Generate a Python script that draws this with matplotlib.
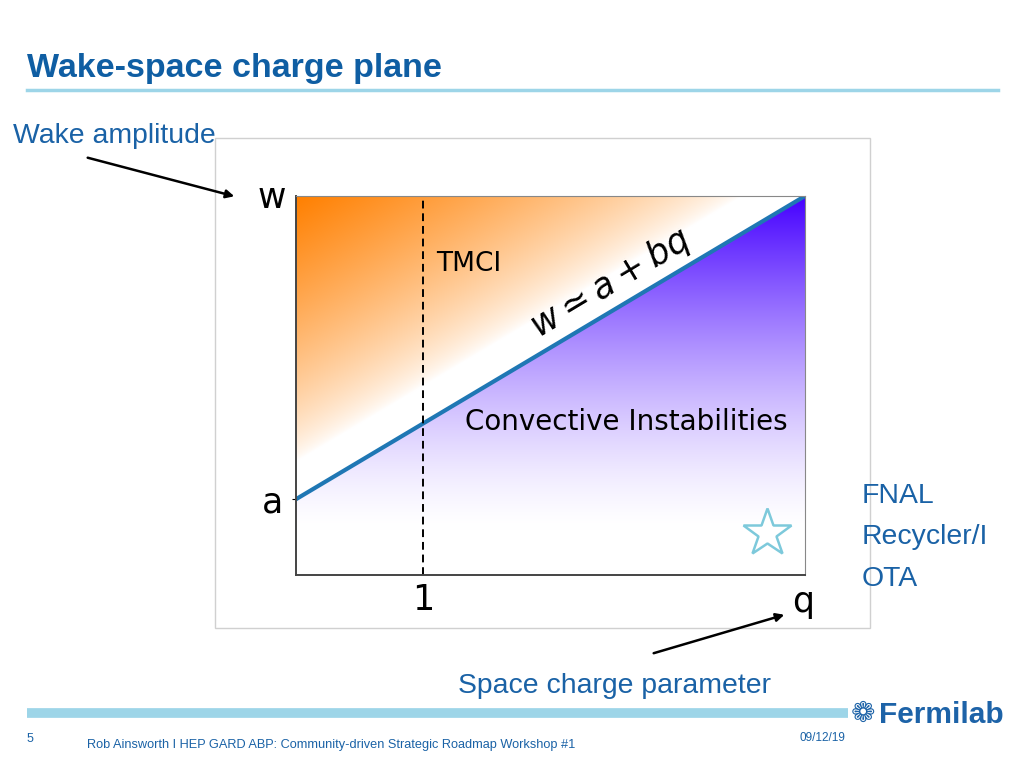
import numpy as np
import matplotlib.pyplot as plt
from matplotlib.patches import Rectangle, FancyArrowPatch
from matplotlib.lines import Line2D

# boundary w = a + b q
A_INTERCEPT = 0.2
B_SLOPE = 0.2
Q_MAX = 4.0
W_MAX = 1.0
Q_TMCI = 1.0
STAR_Q, STAR_W = 3.70, 0.11

TITLE = "Wake-space charge plane"
FOOTER = "Rob Ainsworth I HEP GARD ABP: Community-driven Strategic Roadmap Workshop #1"
PAGE = "5"
DATE = "09/12/19"
NOTE_LINES = ["FNAL", "Recycler/I", "OTA"]

BLUE_TXT = "#1a62a6"
RULE = "#9dd5e8"
W, H = 1024, 768


def fx(px):
    return px / W


def fy(py):
    return 1 - py / H


fig = plt.figure(figsize=(10.24, 7.68), dpi=100)
fig.patch.set_facecolor("white")

# slide header
fig.text(fx(27), fy(68), TITLE, fontsize=24.5, fontweight="bold", color="#0f5ea3",
         family="Liberation Sans", va="center")
fig.add_artist(Line2D([fx(27), fx(998)], [fy(90), fy(90)], color=RULE, lw=2.5))

# picture frame
fig.add_artist(Rectangle((fx(215), fy(628)), fx(870 - 215), (628 - 138) / H,
                         fill=False, ec="#d0d0d0", lw=1.0))

ax = fig.add_axes([fx(296), fy(575), fx(805 - 296), (575 - 196) / H])

# background gradients
q = np.linspace(0, Q_MAX, 500)
w = np.linspace(0, W_MAX, 400)
Q, Wg = np.meshgrid(q, w)
line_w = A_INTERCEPT + B_SLOPE * Q
above = Wg >= line_w
diff = Wg - line_w

orange = np.array([1.0, 0.50, 0.0])
purple = np.array([0.27, 0.0, 1.0])
t_o = np.clip((diff - 0.10) / 0.70, 0, 1) ** 0.75
t_p = np.clip((Wg - 0.12) / 0.88, 0, 1) ** 1.4
t = np.where(above, t_o, t_p)
col = np.where(above[..., None], orange, purple)
rgb = (1 - t[..., None]) * 1.0 + t[..., None] * col
ax.imshow(rgb, origin="lower", extent=[0, Q_MAX, 0, W_MAX], aspect="auto",
          interpolation="bilinear")

ax.plot([0, Q_MAX], [A_INTERCEPT, A_INTERCEPT + B_SLOPE * Q_MAX],
        color="#1f77b4", lw=3)
ax.axvline(Q_TMCI, color="black", ls=(0, (4, 2.5)), lw=1.4)
ax.plot(STAR_Q, STAR_W, marker="*", ms=36, mfc="white", mec="#7dc9db", mew=1.8)

ax.set_xlim(0, Q_MAX)
ax.set_ylim(0, W_MAX)
ax.set_xticks([Q_TMCI])
ax.set_xticklabels(["1"], fontsize=25)
ax.set_yticks([A_INTERCEPT])
ax.set_yticklabels(["a"], fontsize=25)
ax.tick_params(axis="x", length=0, pad=6)
ax.tick_params(axis="y", length=3, pad=6)
for side in ("left", "bottom"):
    ax.spines[side].set_color("#444444")
    ax.spines[side].set_linewidth(1.4)
for side in ("top", "right"):
    ax.spines[side].set_color("#888888")
    ax.spines[side].set_linewidth(0.8)

ax.text(1.10, 0.82, "TMCI", fontsize=19, va="center", ha="left")
ax.text(1.33, 0.405, "Convective Instabilities", fontsize=20, va="center", ha="left")
ax.text(2.47, 0.77, r"$w \simeq a + bq$", fontsize=25, rotation=31,
        rotation_mode="anchor", ha="center", va="center")
fig.text(fx(272), fy(198), "w", fontsize=25, ha="center", va="center")
fig.text(fx(803), fy(602), "q", fontsize=25, ha="center", va="center")

# annotations on slide
fig.text(fx(13), fy(136), "Wake amplitude", fontsize=20.4, color=BLUE_TXT,
         family="Liberation Sans", va="center")
fig.add_artist(FancyArrowPatch((fx(85), fy(157)), (fx(237), fy(197)),
                               arrowstyle="-|>", mutation_scale=12, color="black", lw=1.8))
fig.add_artist(FancyArrowPatch((fx(651), fy(654)), (fx(787), fy(614)),
                               arrowstyle="-|>", mutation_scale=12, color="black", lw=1.8))
fig.text(fx(615), fy(686), "Space charge parameter", fontsize=20.4, color=BLUE_TXT,
         family="Liberation Sans", ha="center", va="center")
for i, s in enumerate(NOTE_LINES):
    fig.text(fx(862), fy(496 + 41.5 * i), s, fontsize=20.4, color=BLUE_TXT,
             family="Liberation Sans", va="center")

# footer
fig.add_artist(Line2D([fx(27), fx(848)], [fy(713), fy(713)], color=RULE, lw=7,
                      solid_capstyle="butt"))
fig.text(fx(27), fy(739), PAGE, fontsize=9, color=BLUE_TXT, family="Liberation Sans",
         va="center")
fig.text(fx(87), fy(745), FOOTER, fontsize=9.2, color=BLUE_TXT,
         family="Liberation Sans", va="center")
fig.text(fx(800), fy(738), DATE, fontsize=8.5, color=BLUE_TXT,
         family="Liberation Sans", va="center")
fig.text(fx(851), fy(714), "\u2741", fontsize=21, color="#1d63a8",
         family="DejaVu Sans", va="center")
fig.text(fx(879), fy(715), "Fermilab", fontsize=21.5, color="#1d63a8", fontweight="bold",
         family="Liberation Sans", va="center")

fig.savefig("out.png", dpi=100)
